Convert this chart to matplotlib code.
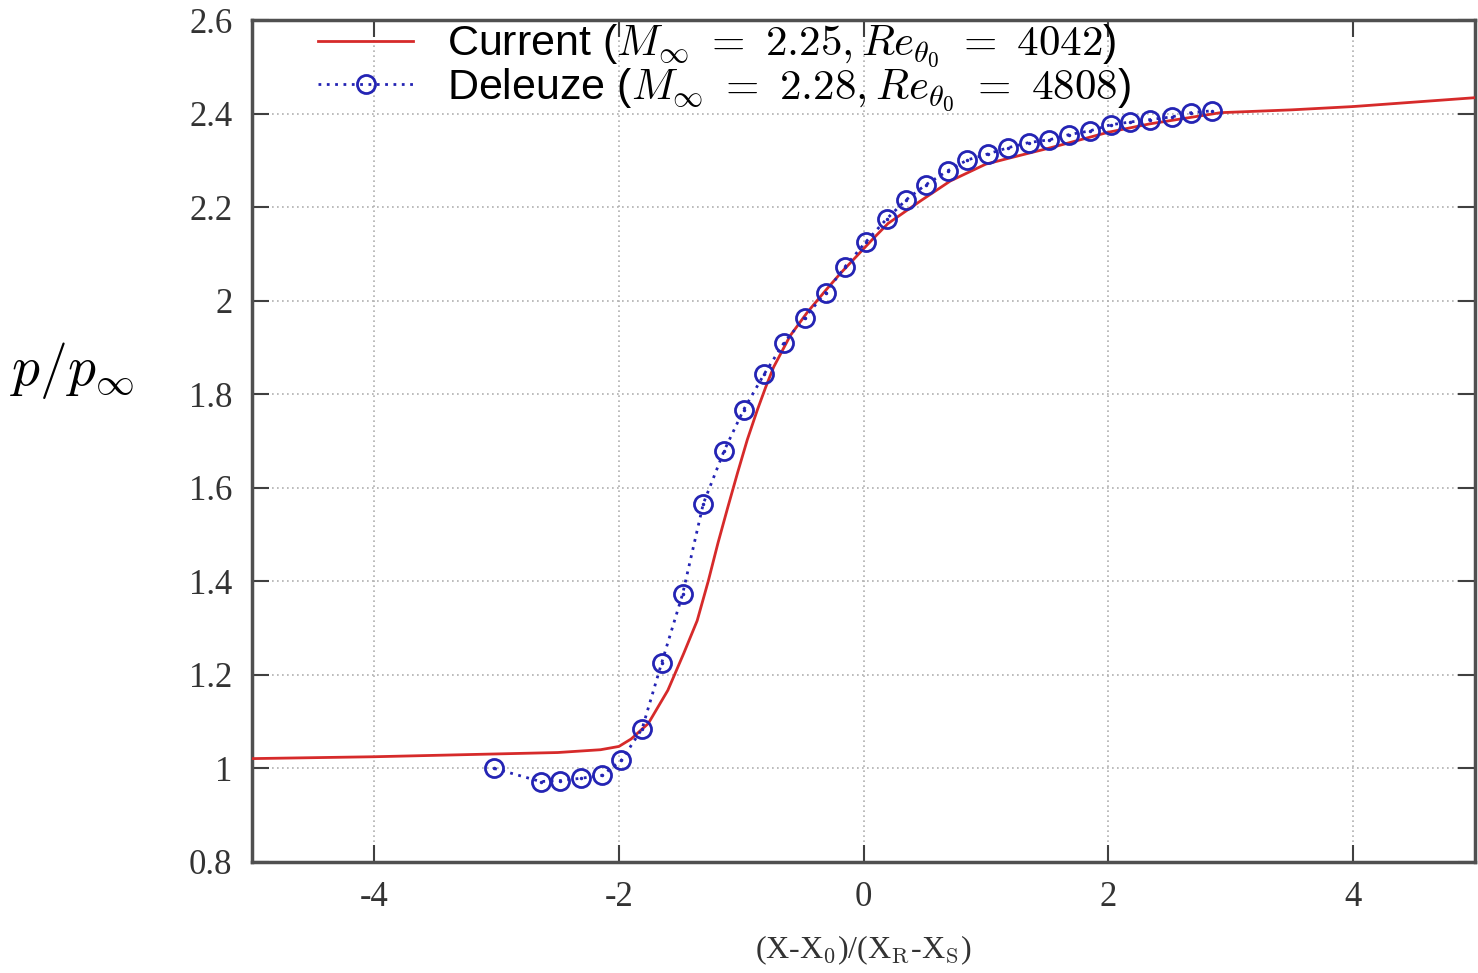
import numpy as np
import matplotlib
matplotlib.use('Agg')
import matplotlib.pyplot as plt
from matplotlib.ticker import FuncFormatter

plt.rcParams['mathtext.fontset'] = 'cm'
plt.rcParams['axes.unicode_minus'] = False

# current simulation (red line)
x_cur = [-5.0, -4.0, -3.0, -2.5, -2.15, -2.0, -1.9, -1.76, -1.6, -1.47, -1.36, -1.27, -1.19,
         -1.11, -1.03, -0.95, -0.87, -0.8, -0.735, -0.6, -0.46, -0.3, -0.19, 0.08, 0.2, 0.47,
         0.71, 1.0, 1.3, 1.53, 2.0, 2.34, 2.92, 3.5, 4.0, 5.0]
p_cur = [1.021, 1.025, 1.031, 1.034, 1.040, 1.047, 1.063, 1.096, 1.167, 1.246, 1.316, 1.40, 1.482,
         1.558, 1.632, 1.703, 1.765, 1.815, 1.858, 1.925, 1.975, 2.025, 2.058, 2.133, 2.165, 2.214,
         2.256, 2.292, 2.312, 2.327, 2.36, 2.378, 2.402, 2.408, 2.415, 2.434]

# Deleuze experiment (blue circles)
x_del = [-3.02, -2.64, -2.48, -2.31, -2.14, -1.98, -1.81, -1.65, -1.48, -1.31, -1.14, -0.98,
         -0.81, -0.65, -0.48, -0.31, -0.15, 0.02, 0.19, 0.35, 0.51, 0.69, 0.85, 1.02, 1.18,
         1.35, 1.52, 1.68, 1.85, 2.02, 2.18, 2.34, 2.52, 2.68, 2.85]
p_del = [1.00, 0.972, 0.974, 0.979, 0.985, 1.017, 1.085, 1.226, 1.372, 1.566, 1.679, 1.767,
         1.844, 1.910, 1.964, 2.017, 2.073, 2.126, 2.175, 2.216, 2.248, 2.278, 2.301, 2.314, 2.327,
         2.338, 2.344, 2.355, 2.363, 2.376, 2.382, 2.387, 2.393, 2.402, 2.406]

lab_cur = 'Current ($M_\\infty\\ =\\ 2.25, Re_{\\theta_0}\\ =\\ 4042$)'
lab_del = 'Deleuze ($M_\\infty\\ =\\ 2.28, Re_{\\theta_0}\\ =\\ 4808$)'

fig = plt.figure(figsize=(14.78, 9.73), dpi=100)
ax = fig.add_axes([0.1705, 0.1141, 0.8275, 0.8653])

red = '#d62a2a'
blue = '#2424b4'
ax.plot(x_cur, p_cur, color=red, lw=2, label=lab_cur, zorder=3)
ax.plot(x_del, p_del, color=blue, lw=2, ls=(0, (1, 2)), marker='o', ms=13,
        mfc='none', mec=blue, mew=2, label=lab_del, zorder=4)
ax.plot(x_del, p_del, ls='none', marker='.', ms=3, color=blue, zorder=4)

ax.set_xlim(-5, 5)
ax.set_ylim(0.8, 2.6)
ax.set_xticks([-4, -2, 0, 2, 4])
ax.set_yticks(np.arange(0.8, 2.61, 0.2))
fmt = FuncFormatter(lambda v, pos: '%g' % round(v, 2))
ax.xaxis.set_major_formatter(fmt)
ax.yaxis.set_major_formatter(fmt)

ax.grid(True, color='#b0b0b0', ls=(0, (1, 2)), lw=1.2)
ax.tick_params(direction='in', length=12, width=1.5, color='#404040', top=True, right=True,
               labelsize=25, labelcolor='#333333', pad=14)
for lbl in ax.get_xticklabels() + ax.get_yticklabels():
    lbl.set_family('Liberation Serif')
for s in ax.spines.values():
    s.set_color('#505050')
    s.set_linewidth(2.5)

ax.set_xlabel('(X-X$_\\mathrm{0}$)/(X$_\\mathrm{R}$-X$_\\mathrm{S}$)', family='Liberation Serif',
              fontsize=23, color='#333333', va='center')
ax.xaxis.set_label_coords(0.5, -0.105)
ax.set_ylabel('$p/p_\\infty$', fontsize=40, rotation=0, va='center', ha='center')
ax.yaxis.set_label_coords(-0.147, 0.584)

leg = ax.legend(loc='upper left', bbox_to_anchor=(0.04, 1.017), frameon=False,
                prop={'family': 'Liberation Sans', 'size': 31}, handlelength=2.2,
                handletextpad=0.8, labelspacing=-0.1, borderaxespad=0)

fig.savefig('out.png', dpi=100)
